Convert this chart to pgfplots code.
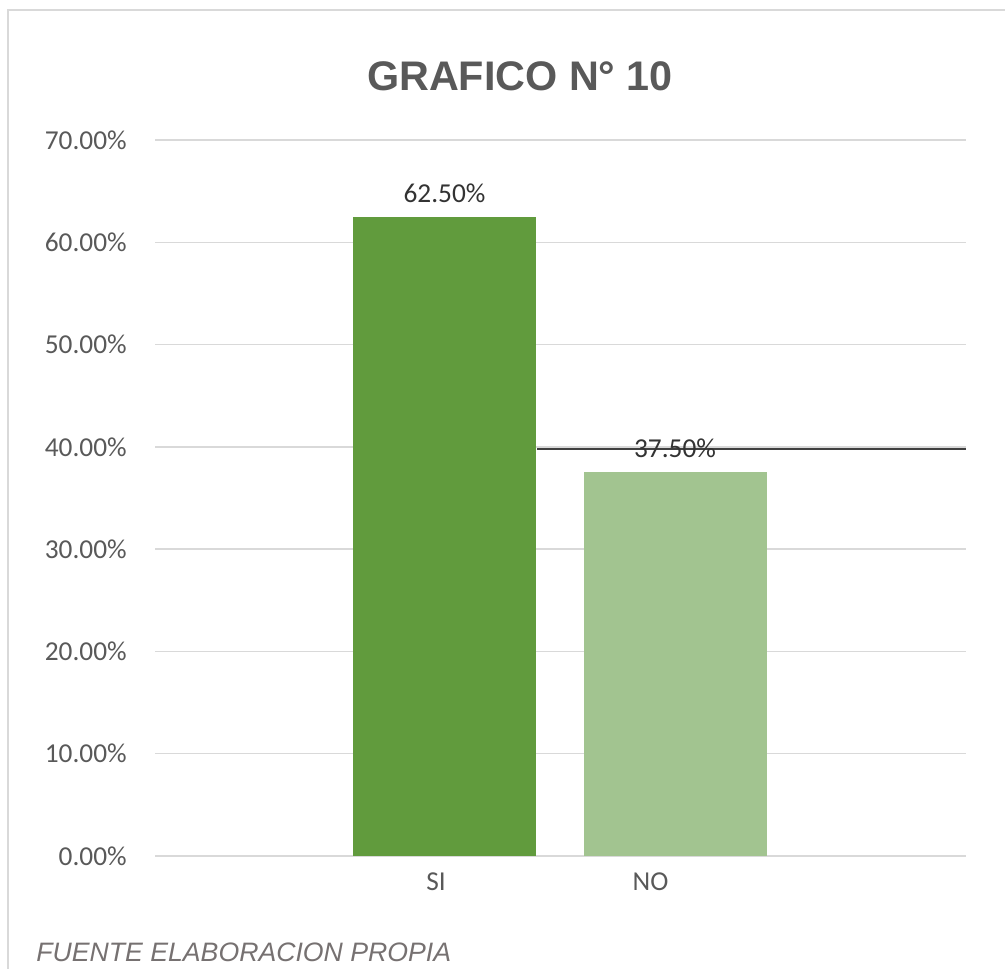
\documentclass[border=0pt]{standalone}
\usepackage{pgfplots}
\pgfplotsset{compat=1.18}
\usepackage{fontspec}
\setmainfont{Carlito}
\newfontfamily\arialfont{Liberation Sans}
\definecolor{siGreen}{HTML}{619B3D}
\definecolor{noGreen}{HTML}{A2C490}
\definecolor{txtGray}{HTML}{595959}
\definecolor{gridGray}{HTML}{D9D9D9}
\definecolor{footGray}{HTML}{767171}
\begin{document}
\begin{tikzpicture}
\useasboundingbox (0,0) rectangle (753.75pt,726pt);
\begin{scope}
\clip (0,0) rectangle (753.75pt,726pt);
\draw[gridGray, line width=1.2pt] (6pt,-10pt) rectangle (760pt,718.5pt);
\end{scope}
\begin{axis}[
    at={(116.25pt,84pt)}, anchor=south west,
    scale only axis,
    width=608.25pt, height=537pt,
    xmin=155, xmax=966,
    ymin=0, ymax=70,
    ytick={0,10,...,70},
    xtick={436,650.5},
    xticklabels={SI,NO},
    major tick length=0pt,
    axis line style={draw=none},
    ymajorgrids,
    major grid style={gridGray, line width=1pt},
    /pgf/number format/assume math mode=true,
    yticklabel={\pgfmathprintnumber[fixed,fixed zerofill,precision=2]{\tick}\%},
    tick label style={font=\fontsize{20.5}{24}\selectfont, text=txtGray},
    yticklabel style={inner sep=0pt, xshift=-21pt},
    xticklabel style={inner sep=0pt, yshift=-12pt},
    nodes near coords={\pgfmathprintnumber[fixed,fixed zerofill,precision=2]{\pgfplotspointmeta}\%},
    nodes near coords style={font=\fontsize{20.5}{24}\selectfont, text=black!80, anchor=south, inner sep=0pt, yshift=10.5pt},
]
\addplot[ybar, bar shift=0pt, bar width=183, fill=siGreen, draw=none] coordinates {(444.5,62.5)};
\addplot[ybar, bar shift=0pt, bar width=183, fill=noGreen, draw=none] coordinates {(675,37.5)};
\addplot[black!75, line width=1.2pt, nodes near coords=\relax] coordinates {(537,39.8) (966,39.8)};
\end{axis}
\node[font=\arialfont\bfseries\fontsize{31}{36}\selectfont, text=txtGray] at (390pt,669pt) {GRAFICO N° 10};
\node[font=\arialfont\itshape\fontsize{20}{24}\selectfont, text=footGray, anchor=base west, inner sep=0pt] at (27pt,5pt) {FUENTE ELABORACION PROPIA};
\end{tikzpicture}
\end{document}
